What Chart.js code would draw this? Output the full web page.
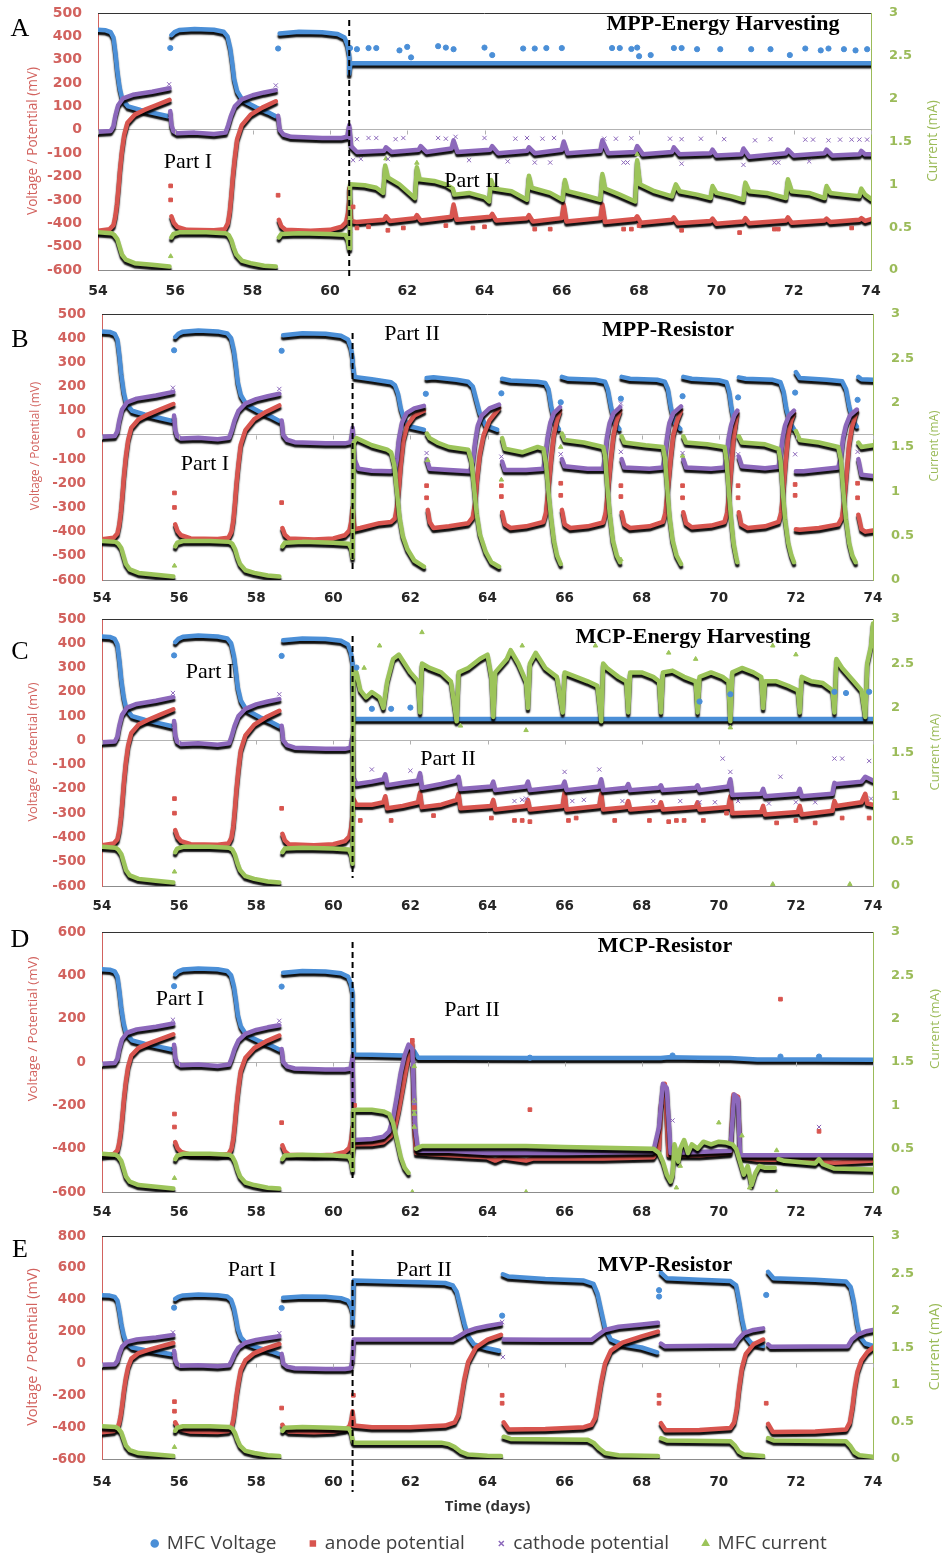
<!DOCTYPE html>
<html>
<head>
<meta charset="utf-8">
<script src="https://cdn.jsdelivr.net/npm/chart.js@4.4.1/dist/chart.umd.min.js"></script>
<style>
  body { margin: 0; background: #fff; width: 943px; height: 1554px; position: relative; overflow: hidden; }
  canvas { position: absolute; left: 0; }
</style>
</head>
<body>
<canvas id="chartA" width="943" height="305" style="top:0px"></canvas>
<canvas id="chartB" width="943" height="305" style="top:305px"></canvas>
<canvas id="chartC" width="943" height="305" style="top:610px"></canvas>
<canvas id="chartD" width="943" height="305" style="top:915px"></canvas>
<canvas id="chartE" width="943" height="343" style="top:1220px"></canvas>
<script>
// ---- data: [day, mV] or [day, mA]; each inner list is one unbroken run of samples ----
const splitDay = 60.5;
const seriesNames = ["MFC Voltage", "anode potential", "cathode potential", "MFC current"];

// Part I is the same run in every panel
const partIVoltage = [
  [[54.0,428],[54.2,426],[54.33,418],[54.4,395],[54.45,330],[54.5,250],[54.56,180],[54.63,130],[54.78,100],[55.1,85],[55.5,70],[55.82,58]],
  [[55.9,405],[55.98,418],[56.1,427],[56.5,432],[57.0,428],[57.25,420],[57.35,400],[57.42,350],[57.47,290],[57.52,220],[57.6,165],[57.75,125],[58.1,95],[58.4,75],[58.6,58]],
  [[58.7,412],[59.2,420],[59.8,418],[60.2,410],[60.38,395],[60.45,365],[60.5,320]]
];
const partIVoltageDots = [[55.87,350],[58.66,348]];
const partIAnode = [
  [[54.0,-432],[54.3,-425],[54.4,-408],[54.45,-370],[54.49,-320],[54.53,-250],[54.57,-170],[54.62,-90],[54.68,-20],[54.76,30],[54.95,65],[55.2,85],[55.5,105],[55.85,128]],
  [[55.9,-370],[55.96,-398],[56.05,-415],[56.3,-428],[57.0,-430],[57.28,-425],[57.36,-400],[57.41,-350],[57.45,-280],[57.49,-200],[57.54,-120],[57.6,-40],[57.72,20],[57.95,65],[58.25,95],[58.6,122]],
  [[58.68,-385],[58.74,-412],[58.85,-428],[59.5,-432],[60.0,-428],[60.3,-415],[60.42,-395],[60.47,-355],[60.5,-300]]
];
const partIAnodeDots = [[55.88,-240],[55.88,-300],[58.66,-280]];
const partICathode = [
  [[54.0,-8],[54.33,-5],[54.4,15],[54.45,60],[54.52,105],[54.65,135],[54.9,150],[55.4,163],[55.85,178]],
  [[55.87,80],[55.9,20],[55.95,-5],[56.05,-15],[56.5,-12],[57.0,-18],[57.3,-12],[57.37,20],[57.44,60],[57.54,100],[57.72,130],[58.0,148],[58.3,160],[58.6,170]],
  [[58.66,60],[58.7,0],[58.8,-20],[59.0,-30],[59.8,-35],[60.3,-35],[60.45,-30],[60.5,20]]
];
const partICathodeDots = [[55.84,195],[58.6,190],[55.87,60]];
const partICurrent = [
  [[54.0,0.44],[54.35,0.43],[54.42,0.41],[54.5,0.36],[54.56,0.27],[54.62,0.18],[54.72,0.12],[54.95,0.08],[55.4,0.06],[55.85,0.04]],
  [[55.9,0.38],[55.95,0.42],[56.1,0.44],[56.8,0.44],[57.3,0.43],[57.38,0.41],[57.45,0.35],[57.51,0.26],[57.58,0.18],[57.72,0.11],[57.95,0.08],[58.3,0.05],[58.6,0.04]],
  [[58.68,0.38],[58.74,0.42],[59.2,0.43],[60.0,0.42],[60.4,0.41],[60.46,0.36],[60.5,0.25]]
];
const partICurrentDots = [[55.88,0.16]];

// A: MPP-Energy Harvesting
const aVoltage = [[[60.5,240],[60.53,285],[74,285]]];
const aVoltageDots = [[60.52,350],[60.7,345],[61.0,350],[61.2,350],[61.8,340],[62.0,355],[62.1,310],[62.8,358],[63.0,352],[63.2,345],[64.0,352],[64.2,320],[65.0,348],[65.3,348],[65.6,350],[66.0,350],[67.3,350],[67.5,350],[67.8,346],[67.95,352],[68.0,315],[68.3,320],[68.9,350],[69.1,350],[69.5,345],[70.1,345],[70.9,345],[71.4,345],[71.9,320],[72.3,348],[72.7,340],[72.9,348],[73.3,345],[73.6,340],[73.9,345]];
const aAnode = [[[60.5,-250],[60.55,-390],[60.7,-395],[61.4,-385],[61.45,-370],[61.55,-390],[62.2,-378],[62.25,-365],[62.35,-388],[63.15,-372],[63.2,-320],[63.28,-385],[64.15,-372],[64.2,-360],[64.3,-388],[65.1,-378],[65.15,-365],[65.25,-392],[66.0,-378],[66.05,-320],[66.12,-392],[67.0,-378],[67.05,-320],[67.12,-395],[67.9,-382],[67.95,-370],[68.05,-398],[68.85,-385],[68.9,-375],[69.0,-400],[69.85,-390],[69.9,-380],[70.0,-402],[70.7,-392],[70.75,-378],[70.85,-400],[71.8,-388],[71.85,-375],[71.95,-398],[72.8,-388],[72.85,-380],[72.95,-395],[73.7,-385],[73.75,-378],[73.85,-390],[74.0,-382]]];
const aAnodeDots = [[60.6,-330],[60.7,-420],[61.0,-415],[61.5,-430],[61.9,-420],[63.0,-410],[63.7,-420],[64.0,-415],[65.3,-425],[65.7,-425],[67.6,-425],[67.8,-425],[68.0,-410],[69.1,-430],[70.6,-440],[71.5,-425],[71.6,-425],[73.5,-420]];
const aCathode = [[[60.55,-70],[60.7,-95],[61.4,-90],[61.45,-75],[61.6,-95],[62.3,-85],[62.35,-70],[62.5,-95],[63.15,-80],[63.2,-45],[63.3,-95],[64.15,-85],[64.2,-70],[64.35,-100],[65.1,-90],[65.15,-75],[65.3,-100],[66.0,-85],[66.05,-50],[66.15,-100],[67.0,-90],[67.05,-45],[67.2,-100],[67.9,-95],[67.95,-70],[68.1,-105],[68.85,-95],[68.9,-75],[69.05,-105],[69.85,-100],[69.9,-85],[70.0,-110],[70.65,-105],[70.7,-80],[70.85,-115],[71.8,-100],[71.85,-85],[72.0,-110],[72.8,-100],[72.85,-85],[73.0,-110],[73.7,-105],[73.75,-90],[73.85,-105],[74.0,-105]]];
const aCathodeDots = [[60.7,-40],[61.0,-35],[61.2,-35],[61.7,-40],[61.9,-35],[62.8,-35],[63.0,-38],[63.25,-30],[64.0,-35],[64.8,-38],[65.1,-35],[65.5,-38],[65.8,-35],[67.1,-38],[67.4,-38],[67.8,-36],[68.8,-38],[69.1,-40],[69.6,-38],[70.2,-40],[71.0,-45],[71.4,-40],[72.3,-42],[72.5,-42],[72.9,-45],[73.2,-42],[73.5,-42],[73.7,-42],[73.9,-42],[60.6,-130],[60.8,-125],[61.5,-125],[63.6,-130],[64.6,-135],[65.3,-140],[65.7,-140],[67.6,-140],[67.7,-140],[69.1,-145],[70.7,-150],[71.5,-140],[71.6,-140],[72.4,-135]];
const aCurrent = [[[60.52,1.0],[60.9,0.99],[61.2,0.96],[61.38,0.9],[61.43,1.22],[61.5,1.08],[61.8,1.0],[62.1,0.88],[62.2,0.84],[62.25,1.2],[62.32,1.06],[62.7,1.04],[63.0,1.0],[63.18,0.95],[63.22,0.88],[63.6,0.9],[64.0,0.85],[64.12,0.8],[64.17,1.05],[64.25,0.95],[64.7,0.92],[65.1,0.82],[65.15,1.1],[65.22,0.96],[65.7,0.9],[66.02,0.82],[66.08,1.05],[66.15,0.92],[66.6,0.87],[67.0,0.82],[67.05,1.12],[67.12,0.95],[67.5,0.88],[67.9,0.8],[67.95,1.28],[68.02,1.0],[68.4,0.92],[68.85,0.86],[68.95,1.0],[69.05,0.92],[69.5,0.88],[69.85,0.84],[69.9,0.98],[70.0,0.9],[70.4,0.86],[70.7,0.82],[70.75,1.02],[70.85,0.92],[71.3,0.9],[71.8,0.84],[71.85,1.06],[71.95,0.92],[72.4,0.9],[72.8,0.84],[72.85,0.98],[72.95,0.9],[73.3,0.88],[73.7,0.86],[73.75,0.95],[73.85,0.88],[74.0,0.83]]];
const aCurrentDots = [[60.52,0.6],[60.52,0.45],[61.45,1.3],[62.25,1.25],[67.95,1.35]];

// B: MPP-Resistor
const bVoltage = [
  [[60.5,300],[60.55,240],[61.0,230],[61.5,218],[61.6,205],[61.68,170],[61.75,110],[61.85,60],[62.0,35],[62.35,22]],
  [[62.42,235],[62.6,238],[63.2,228],[63.5,220],[63.62,200],[63.7,150],[63.8,90],[63.95,40],[64.25,22]],
  [[64.38,232],[64.6,225],[65.3,220],[65.5,215],[65.58,190],[65.65,120],[65.75,50],[65.85,25]],
  [[65.93,240],[66.1,232],[66.8,228],[67.05,220],[67.12,190],[67.2,120],[67.3,50],[67.42,25]],
  [[67.48,240],[67.7,232],[68.4,228],[68.6,220],[68.68,190],[68.75,120],[68.85,50],[69.0,25]],
  [[69.08,240],[69.3,232],[70.0,226],[70.2,218],[70.27,180],[70.33,110],[70.42,40]],
  [[70.52,238],[70.7,232],[71.4,228],[71.6,218],[71.68,180],[71.75,110],[71.85,50],[71.95,25]],
  [[72.0,260],[72.1,235],[72.8,228],[73.2,222],[73.3,190],[73.38,120],[73.48,60],[73.58,35]],
  [[73.62,240],[73.7,230],[74.0,228]]
];
const bVoltageDots = [[62.4,170],[64.36,172],[65.9,135],[67.46,150],[69.06,160],[70.5,155],[71.98,175],[73.6,145]];
const bAnode = [
  [[60.5,-300],[60.55,-390],[60.7,-385],[61.2,-365],[61.5,-360],[61.6,-345],[61.65,-300],[61.7,-220],[61.75,-120],[61.82,-20],[61.92,40],[62.1,80],[62.35,100]],
  [[62.45,-310],[62.5,-360],[62.6,-385],[63.0,-378],[63.5,-365],[63.62,-340],[63.68,-280],[63.73,-180],[63.8,-80],[63.9,0],[64.05,60],[64.3,110]],
  [[64.38,-320],[64.45,-370],[64.6,-385],[65.0,-378],[65.45,-360],[65.52,-320],[65.58,-220],[65.65,-100],[65.72,0],[65.8,60],[65.88,100]],
  [[65.93,-310],[66.0,-370],[66.15,-385],[66.6,-378],[67.0,-362],[67.07,-320],[67.13,-220],[67.2,-100],[67.27,0],[67.35,60],[67.44,100]],
  [[67.48,-320],[67.55,-370],[67.7,-385],[68.2,-378],[68.55,-360],[68.62,-320],[68.68,-220],[68.75,-100],[68.82,0],[68.92,60],[69.02,100]],
  [[69.08,-320],[69.15,-365],[69.3,-382],[69.8,-375],[70.15,-360],[70.22,-320],[70.28,-220],[70.33,-120],[70.38,-20],[70.44,50],[70.48,90]],
  [[70.52,-320],[70.58,-370],[70.75,-385],[71.2,-378],[71.55,-360],[71.62,-320],[71.68,-220],[71.74,-100],[71.8,0],[71.88,60],[71.95,90]],
  [[72.0,-390],[72.1,-392],[72.6,-385],[73.1,-370],[73.2,-340],[73.26,-260],[73.32,-150],[73.38,-40],[73.45,30],[73.58,100]],
  [[73.62,-330],[73.7,-390],[73.8,-400],[74.0,-395]]
];
const bAnodeDots = [[62.42,-210],[62.42,-260],[64.36,-210],[64.36,-255],[65.9,-200],[65.9,-250],[67.46,-210],[67.46,-255],[69.06,-210],[69.06,-260],[70.5,-210],[70.5,-260],[71.98,-205],[71.98,-250],[73.6,-200],[73.6,-260]];
const bCathode = [
  [[60.5,30],[60.55,-100],[60.65,-140],[61.0,-148],[61.5,-150],[61.6,-145],[61.65,-100],[61.7,-20],[61.78,50],[61.9,90],[62.1,110],[62.35,120]],
  [[62.42,-100],[62.5,-140],[63.0,-145],[63.55,-150],[63.62,-110],[63.68,-30],[63.75,40],[63.85,80],[64.05,110],[64.3,125]],
  [[64.38,-110],[64.45,-145],[65.0,-145],[65.45,-140],[65.5,-90],[65.56,-10],[65.63,50],[65.72,90],[65.88,115]],
  [[65.93,-100],[66.0,-130],[66.6,-140],[67.0,-140],[67.05,-90],[67.1,-10],[67.17,50],[67.27,90],[67.44,115]],
  [[67.48,-100],[67.55,-135],[68.2,-140],[68.55,-135],[68.6,-90],[68.66,-10],[68.72,50],[68.82,90],[69.02,118]],
  [[69.08,-100],[69.15,-135],[69.8,-140],[70.15,-135],[70.2,-90],[70.26,-10],[70.32,40],[70.4,80],[70.48,100]],
  [[70.52,-90],[70.6,-130],[71.2,-138],[71.55,-132],[71.6,-90],[71.66,-10],[71.72,40],[71.82,80],[71.95,100]],
  [[72.0,-150],[72.2,-150],[72.8,-140],[73.1,-135],[73.17,-90],[73.23,-10],[73.3,40],[73.4,80],[73.58,105]],
  [[73.62,-100],[73.7,-165],[74.0,-170]]
];
const bCathodeDots = [[62.42,-75],[64.36,-90],[65.9,-80],[67.46,130],[67.46,-70],[69.06,-75],[70.5,-80],[71.98,-80],[73.6,-70]];
const bCurrent = [
  [[60.53,1.55],[60.6,1.6],[61.0,1.52],[61.4,1.47],[61.5,1.44],[61.58,1.3],[61.65,1.0],[61.72,0.7],[61.8,0.5],[61.92,0.35],[62.1,0.22],[62.35,0.15]],
  [[62.43,1.65],[62.5,1.6],[62.7,1.55],[63.0,1.5],[63.5,1.47],[63.58,1.35],[63.65,1.05],[63.72,0.75],[63.8,0.52],[63.95,0.32],[64.1,0.2],[64.3,0.15]],
  [[64.38,1.6],[64.45,1.48],[64.9,1.44],[65.3,1.5],[65.45,1.48],[65.52,1.3],[65.58,1.0],[65.65,0.7],[65.72,0.45],[65.8,0.28],[65.9,0.18]],
  [[65.93,1.65],[66.0,1.58],[66.5,1.55],[67.0,1.5],[67.05,1.4],[67.1,1.1],[67.17,0.75],[67.25,0.45],[67.35,0.28],[67.44,0.2]],
  [[67.48,1.62],[67.55,1.55],[68.1,1.52],[68.55,1.5],[68.6,1.38],[68.66,1.05],[68.72,0.72],[68.8,0.45],[68.9,0.28],[69.02,0.18]],
  [[69.08,1.62],[69.15,1.55],[69.7,1.53],[70.15,1.5],[70.2,1.35],[70.26,1.0],[70.32,0.68],[70.38,0.42],[70.44,0.28],[70.48,0.2]],
  [[70.52,1.62],[70.6,1.55],[71.2,1.53],[71.55,1.48],[71.6,1.35],[71.66,1.0],[71.72,0.68],[71.8,0.42],[71.88,0.28],[71.95,0.2]],
  [[72.0,1.68],[72.1,1.58],[72.6,1.55],[73.1,1.5],[73.17,1.35],[73.23,1.0],[73.3,0.68],[73.38,0.42],[73.46,0.28],[73.55,0.2]],
  [[73.62,1.55],[73.7,1.5],[74.0,1.52]]
];
const bCurrentDots = [[62.45,1.35],[64.36,1.13],[67.46,0.23],[65.9,1.5],[69.06,1.4]];

// C: MCP-Energy Harvesting
const cVoltage = [[[60.5,250],[60.53,88],[74,88]]];
const cVoltageDots = [[60.6,300],[61.0,130],[61.5,130],[62.0,135],[69.5,160],[70.3,190],[73.0,200],[73.3,195],[73.9,200]];
const cAnode = [[[60.5,-280],[60.52,-240],[60.6,-265],[61.0,-265],[61.3,-255],[61.35,-230],[61.4,-280],[61.8,-270],[62.2,-255],[62.25,-215],[62.3,-275],[62.8,-265],[63.2,-245],[63.25,-220],[63.3,-280],[64.1,-270],[64.15,-245],[64.2,-285],[65.0,-270],[65.05,-245],[65.1,-285],[65.95,-270],[66.0,-215],[66.05,-285],[66.9,-270],[66.95,-220],[67.0,-285],[67.6,-275],[67.65,-250],[67.7,-285],[68.45,-275],[68.5,-255],[68.55,-285],[69.4,-275],[69.45,-255],[69.5,-285],[70.25,-275],[70.3,-230],[70.35,-300],[71.1,-295],[71.15,-270],[71.2,-305],[72.05,-295],[72.1,-270],[72.15,-305],[72.95,-290],[73.0,-250],[73.05,-270],[73.7,-255],[73.8,-220],[73.85,-260],[74.0,-265]]];
const cAnodeDots = [[60.7,-330],[61.5,-330],[62.6,-310],[64.1,-320],[64.7,-330],[64.9,-330],[65.1,-335],[66.1,-330],[66.3,-320],[67.3,-330],[68.2,-330],[68.7,-335],[68.9,-330],[69.1,-330],[69.6,-330],[70.2,-300],[71.5,-340],[72.0,-330],[72.5,-340],[73.2,-320],[73.9,-320]];
const cCathode = [[[60.5,20],[60.52,-150],[60.6,-180],[61.0,-170],[61.3,-160],[61.35,-140],[61.4,-185],[61.8,-175],[62.2,-165],[62.25,-135],[62.3,-195],[62.8,-180],[63.2,-165],[63.25,-150],[63.3,-200],[64.1,-190],[64.15,-170],[64.2,-205],[65.0,-190],[65.05,-170],[65.1,-205],[65.95,-190],[66.0,-170],[66.05,-205],[66.9,-190],[66.95,-160],[67.0,-205],[67.6,-195],[67.65,-180],[67.7,-205],[68.45,-195],[68.5,-185],[68.55,-205],[69.4,-195],[69.45,-185],[69.5,-205],[70.25,-190],[70.3,-160],[70.35,-225],[71.1,-220],[71.15,-200],[71.2,-230],[72.05,-220],[72.1,-200],[72.15,-230],[72.95,-220],[73.0,-175],[73.05,-180],[73.7,-170],[73.8,-150],[74.0,-165]]];
const cCathodeDots = [[61.0,-120],[62.0,-125],[66.0,-130],[66.9,-120],[70.1,-75],[70.3,-130],[71.6,-150],[73.0,-75],[73.2,-75],[73.9,-85],[73.95,-240],[64.7,-250],[64.9,-245],[65.0,-240],[66.2,-250],[66.5,-245],[67.5,-250],[68.3,-250],[69.0,-250],[69.5,-255],[69.9,-255],[70.5,-250],[71.3,-260],[72.0,-255],[72.5,-255]];
const cCurrent = [[[60.52,2.45],[60.6,2.4],[60.7,2.2],[60.85,2.12],[61.0,2.18],[61.2,2.12],[61.3,2.0],[61.4,2.3],[61.55,2.55],[61.7,2.6],[62.0,2.4],[62.2,2.3],[62.25,1.95],[62.3,2.5],[62.5,2.45],[62.8,2.4],[63.05,2.3],[63.2,1.85],[63.25,2.4],[63.5,2.45],[63.8,2.55],[64.0,2.6],[64.1,2.35],[64.15,1.9],[64.2,2.4],[64.5,2.55],[64.6,2.65],[64.8,2.5],[65.0,2.3],[65.05,2.0],[65.1,2.5],[65.25,2.62],[65.5,2.45],[65.8,2.35],[65.95,1.95],[66.0,2.4],[66.3,2.35],[66.6,2.3],[66.85,2.25],[66.95,1.85],[67.0,2.5],[67.1,2.45],[67.4,2.35],[67.6,2.3],[67.65,1.95],[67.7,2.4],[68.0,2.4],[68.3,2.35],[68.45,2.3],[68.5,1.95],[68.55,2.4],[68.8,2.42],[69.1,2.35],[69.4,2.3],[69.45,1.95],[69.5,2.35],[69.8,2.4],[70.1,2.35],[70.25,2.3],[70.3,1.85],[70.35,2.4],[70.6,2.45],[70.9,2.4],[71.1,2.35],[71.15,2.0],[71.2,2.3],[71.5,2.3],[71.8,2.25],[72.05,2.2],[72.1,1.95],[72.15,2.35],[72.4,2.3],[72.7,2.28],[72.95,2.2],[73.0,1.95],[73.05,2.55],[73.2,2.45],[73.5,2.3],[73.7,2.2],[73.8,1.9],[73.85,2.5],[73.95,2.7],[74.0,2.95]]];
const cCurrentDots = [[60.8,2.45],[61.2,2.7],[62.3,2.85],[63.3,1.8],[64.9,2.7],[65.0,1.75],[66.8,2.7],[68.7,2.62],[69.4,2.55],[70.3,1.78],[71.4,2.7],[71.4,0.02],[73.4,0.02],[72.0,2.6],[60.52,1.2],[60.52,0.8]];

// D: MCP-Resistor
const dVoltage = [[[60.5,250],[60.53,35],[61.0,33],[61.8,30],[62.0,22],[62.1,50],[62.2,20],[63.0,20],[65.0,18],[68.5,18],[68.7,22],[69.5,20],[70.3,18],[71.0,12],[72.5,12],[74.0,10]]];
const dVoltageDots = [[65.1,20],[68.8,30],[71.6,25],[72.6,25]];
const dAnode = [[[60.5,-420],[60.53,-380],[61.0,-378],[61.3,-370],[61.5,-340],[61.6,-300],[61.7,-220],[61.8,-120],[61.9,-20],[62.0,60],[62.05,90],[62.1,-300],[62.15,-420],[62.5,-425],[63.5,-435],[64.0,-440],[64.2,-455],[64.4,-440],[65.0,-455],[65.2,-445],[66.0,-445],[67.0,-445],[68.3,-440],[68.45,-400],[68.5,-200],[68.6,-100],[68.7,-430],[69.5,-430],[70.3,-420],[70.38,-150],[70.5,-160],[70.55,-440],[71.0,-450],[72.5,-455],[73.0,-465],[74.0,-455]]];
const dAnodeDots = [[62.05,100],[62.1,-210],[65.1,-220],[71.6,290],[72.6,-320],[60.55,-200]];
const dCathode = [[[60.5,30],[60.53,-360],[61.0,-355],[61.3,-345],[61.45,-320],[61.55,-260],[61.65,-160],[61.75,-50],[61.85,30],[61.95,80],[62.05,60],[62.12,-300],[62.2,-410],[63.0,-410],[64.0,-420],[66.0,-420],[68.3,-415],[68.45,-300],[68.55,-100],[68.65,-120],[68.75,-420],[70.3,-410],[70.4,-150],[70.5,-170],[70.55,-430],[71.0,-430],[72.5,-430],[74.0,-430]]];
const dCathodeDots = [[62.1,-180],[62.1,-280],[68.8,-270],[72.6,-300]];
const dCurrent = [
  [[60.52,0.95],[61.0,0.95],[61.3,0.93],[61.45,0.9],[61.55,0.8],[61.65,0.6],[61.75,0.4],[61.85,0.28],[61.95,0.22]],
  [[62.15,0.5],[62.3,0.53],[63.0,0.53],[64.0,0.53],[65.0,0.53],[66.0,0.52],[67.0,0.51],[68.3,0.5],[68.45,0.45],[68.55,0.35],[68.65,0.2],[68.75,0.12],[68.8,0.2],[68.85,0.55],[68.95,0.35],[69.0,0.5],[69.1,0.6],[69.2,0.45],[69.3,0.55],[69.45,0.5],[69.6,0.58],[69.8,0.55],[70.0,0.58],[70.2,0.57],[70.35,0.55],[70.45,0.5],[70.55,0.35],[70.65,0.2],[70.75,0.3],[70.85,0.08],[70.95,0.22],[71.05,0.3],[71.2,0.28],[71.45,0.28]],
  [[71.55,0.38],[71.7,0.36],[72.5,0.33],[72.6,0.38],[72.7,0.32],[73.0,0.27],[74.0,0.26]]
];
const dCurrentDots = [[62.1,1.45],[62.1,1.05],[62.1,0.95],[62.1,0.9],[62.1,0.75],[62.05,0.0],[65.0,0.0],[70.0,0.8],[68.9,0.05],[71.5,0.0],[71.5,0.48],[70.6,0.65],[69.0,0.3],[70.8,0.05]];

// E: MVP-Resistor
const eVoltage = [
  [[60.5,250],[60.53,520],[61.5,515],[62.5,508],[62.9,505],[63.1,490],[63.2,450],[63.3,350],[63.4,250],[63.5,170],[63.65,120],[64.0,95],[64.3,80]],
  [[64.4,560],[64.55,545],[65.5,530],[66.5,520],[66.75,500],[66.85,440],[66.95,330],[67.05,220],[67.2,150],[67.5,120],[68.0,100],[68.4,70]],
  [[68.5,570],[68.65,535],[69.5,525],[70.3,518],[70.45,490],[70.52,400],[70.6,280],[70.7,170],[70.85,125],[71.15,110]],
  [[71.28,575],[71.42,535],[72.5,525],[73.3,515],[73.42,480],[73.5,390],[73.58,260],[73.66,170],[73.8,125],[74.0,110]]
];
const eVoltageDots = [[64.38,300],[68.45,460],[68.45,420],[71.23,430]];
const eAnode = [
  [[60.5,-300],[60.53,-390],[61.0,-400],[62.0,-400],[62.9,-390],[63.15,-370],[63.25,-320],[63.32,-220],[63.4,-100],[63.5,10],[63.7,100],[64.0,150],[64.35,180]],
  [[64.42,-370],[64.55,-415],[65.5,-412],[66.5,-400],[66.7,-385],[66.8,-340],[66.87,-240],[66.95,-120],[67.05,0],[67.2,80],[67.5,130],[68.0,170],[68.42,200]],
  [[68.5,-375],[68.62,-420],[69.5,-418],[70.3,-405],[70.4,-370],[70.47,-280],[70.53,-150],[70.6,-30],[70.7,60],[70.9,120],[71.15,150]],
  [[71.28,-380],[71.4,-430],[72.5,-428],[73.3,-415],[73.4,-370],[73.47,-270],[73.53,-150],[73.6,-50],[73.7,20],[73.85,70],[74.0,100]]
];
const eAnodeDots = [[64.38,-200],[64.38,-250],[68.45,-200],[68.45,-250],[71.23,-250],[60.52,-200]];
const eCathode = [
  [[60.5,20],[60.53,150],[62.5,150],[63.1,150],[63.25,170],[63.45,200],[63.7,220],[64.0,235],[64.35,250]],
  [[64.42,150],[65.5,148],[66.7,148],[66.85,175],[67.05,210],[67.4,230],[68.0,245],[68.42,255]],
  [[68.5,125],[68.6,108],[70.4,112],[70.5,150],[70.65,190],[70.9,210],[71.15,220]],
  [[71.28,120],[71.35,105],[73.35,108],[73.45,150],[73.6,180],[73.8,200],[74.0,210]]
];
const eCathodeDots = [[64.4,40],[64.38,260]];
const eCurrent = [
  [[60.53,0.22],[62.8,0.22],[63.0,0.2],[63.15,0.16],[63.3,0.1],[63.5,0.06],[64.0,0.045],[64.35,0.04]],
  [[64.42,0.3],[64.6,0.27],[66.6,0.26],[66.75,0.22],[66.9,0.14],[67.05,0.08],[67.4,0.05],[68.42,0.04]],
  [[68.5,0.28],[68.65,0.25],[70.3,0.24],[70.42,0.18],[70.52,0.1],[70.65,0.06],[71.15,0.04]],
  [[71.28,0.28],[71.42,0.25],[73.3,0.24],[73.42,0.17],[73.52,0.09],[73.65,0.05],[74.0,0.03]]
];
const eCurrentDots = [];

// ---- look ----
const colors = ["#4b8fd7", "#d8554f", "#8c68bb", "#9cc45a"];
const pointStyles = ["circle", "rect", "crossRot", "triangle"];
const leftColor = "#d2625e";
const rightColor = "#9bbb59";

// page-pixel layout of each panel
const panels = [
  { id: "chartA", top: 0, height: 305, area: [98, 13, 871, 270], yMin: -600, yMax: 500, yStep: 100, xPad: 13,
    letter: ["A", 20, 29], title: ["MPP-Energy Harvesting", 723, 24], parts: [["Part I", 188, 162], ["Part II", 472, 181]],
    dash: [20, 276], yTitle: [33, 141, 13.6], cTitle: [933, 141, 13.6],
    series: [[aVoltage, aVoltageDots], [aAnode, aAnodeDots], [aCathode, aCathodeDots], [aCurrent, aCurrentDots]] },
  { id: "chartB", top: 305, height: 305, area: [102, 314, 873, 580], yMin: -600, yMax: 500, yStep: 100, xPad: 10,
    letter: ["B", 20, 340], title: ["MPP-Resistor", 668, 330], parts: [["Part I", 205, 464], ["Part II", 412, 334]],
    dash: [333, 573], yTitle: [36, 446, 11.8], cTitle: [935, 446, 11.8],
    series: [[bVoltage, bVoltageDots], [bAnode, bAnodeDots], [bCathode, bCathodeDots], [bCurrent, bCurrentDots]] },
  { id: "chartC", top: 610, height: 305, area: [102, 619, 873, 886], yMin: -600, yMax: 500, yStep: 100, xPad: 12,
    letter: ["C", 20, 652], title: ["MCP-Energy Harvesting", 693, 637], parts: [["Part I", 210, 672], ["Part II", 448, 759]],
    dash: [636, 878], yTitle: [33, 752, 12.8], cTitle: [935, 752, 12.8],
    series: [[cVoltage, cVoltageDots], [cAnode, cAnodeDots], [cCathode, cCathodeDots], [cCurrent, cCurrentDots]] },
  { id: "chartD", top: 915, height: 305, area: [102, 932, 873, 1192], yMin: -600, yMax: 600, yStep: 200, xPad: 12,
    letter: ["D", 20, 940], title: ["MCP-Resistor", 665, 946], parts: [["Part I", 180, 999], ["Part II", 472, 1010]],
    dash: [942, 1181], yTitle: [33, 1029, 13.3], cTitle: [935, 1029, 13.3],
    series: [[dVoltage, dVoltageDots], [dAnode, dAnodeDots], [dCathode, dCathodeDots], [dCurrent, dCurrentDots]] },
  { id: "chartE", top: 1220, height: 343, area: [102, 1236, 873, 1459], yMin: -600, yMax: 800, yStep: 200, xPad: 15,
    letter: ["E", 20, 1250], title: ["MVP-Resistor", 665, 1265], parts: [["Part I", 252, 1270], ["Part II", 424, 1270]],
    dash: [1250, 1492], yTitle: [33, 1347, 14.5], cTitle: [935, 1347, 14.5], legend: true,
    series: [[eVoltage, eVoltageDots], [eAnode, eAnodeDots], [eCathode, eCathodeDots], [eCurrent, eCurrentDots]] }
];

const partI = [
  [partIVoltage, partIVoltageDots], [partIAnode, partIAnodeDots],
  [partICathode, partICathodeDots], [partICurrent, partICurrentDots]
];

function toPoints(segs) {
  const pts = [];
  segs.forEach((seg, i) => {
    if (i > 0) pts.push({ x: seg[0][0], y: null });
    seg.forEach(p => pts.push({ x: p[0], y: p[1] }));
  });
  return pts;
}

// glue the last run of part I to the first run of part II
function joinParts(first, second) {
  const last = first[first.length - 1].concat(second[0]);
  return first.slice(0, -1).concat([last], second.slice(1));
}

// dark drop shadow under the sample trails
const shadowPlugin = {
  id: "trailShadow",
  beforeDatasetDraw(chart, args) {
    if (!chart.data.datasets[args.index].shadow) return;
    const ctx = chart.ctx;
    ctx.save();
    ctx.shadowColor = "rgba(0,0,0,0.95)";
    ctx.shadowOffsetX = 0;
    ctx.shadowOffsetY = 3;
    ctx.shadowBlur = 1.5;
  },
  afterDatasetDraw(chart, args) {
    if (chart.data.datasets[args.index].shadow) chart.ctx.restore();
  }
};
Chart.register(shadowPlugin);

function decor(p) {
  return {
    id: "decor",
    afterDraw(chart) {
      const { ctx, chartArea: a, scales } = chart;
      const dy = -p.top;
      ctx.save();
      ctx.strokeStyle = "#333";
      ctx.lineWidth = 1;
      ctx.beginPath();
      ctx.moveTo(a.left, a.top + 0.5);
      ctx.lineTo(a.right, a.top + 0.5);
      ctx.stroke();

      // little tick marks hanging from the zero line
      const y0 = Math.round(scales.y.getPixelForValue(0)) + 0.5;
      ctx.strokeStyle = "#b0b0b0";
      scales.x.ticks.forEach(t => {
        const x = Math.round(scales.x.getPixelForValue(t.value)) + 0.5;
        ctx.beginPath();
        ctx.moveTo(x, y0);
        ctx.lineTo(x, y0 + 4);
        ctx.stroke();
      });

      const xs = scales.x.getPixelForValue(splitDay);
      ctx.strokeStyle = "#000";
      ctx.lineWidth = 2;
      ctx.setLineDash([6, 4]);
      ctx.beginPath();
      ctx.moveTo(xs, p.dash[0] + dy);
      ctx.lineTo(xs, p.dash[1] + dy);
      ctx.stroke();
      ctx.setLineDash([]);

      ctx.textAlign = "center";
      ctx.textBaseline = "middle";
      ctx.fillStyle = "#000";
      ctx.font = "26px 'Liberation Serif'";
      ctx.fillText(p.letter[0], p.letter[1], p.letter[2] + dy);
      ctx.font = "bold 22px 'Liberation Serif'";
      ctx.fillText(p.title[0], p.title[1], p.title[2] + dy);
      ctx.font = "22px 'Liberation Serif'";
      p.parts.forEach(t => ctx.fillText(t[0], t[1], t[2] + dy));

      ctx.save();
      ctx.translate(p.yTitle[0], p.yTitle[1] + dy);
      ctx.rotate(-Math.PI / 2);
      ctx.font = p.yTitle[2] + "px 'Open Sans'";
      ctx.fillStyle = leftColor;
      ctx.fillText("Voltage / Potential (mV)", 0, 0);
      ctx.restore();

      ctx.save();
      ctx.translate(p.cTitle[0], p.cTitle[1] + dy);
      ctx.rotate(-Math.PI / 2);
      ctx.font = p.cTitle[2] + "px 'Open Sans'";
      ctx.fillStyle = rightColor;
      ctx.fillText("Current (mA)", 0, 0);
      ctx.restore();

      ctx.restore();
    }
  };
}

function buildDatasets(p) {
  const lines = [];
  const dots = [];
  p.series.forEach((s, i) => {
    const axis = i === 3 ? "y1" : "y";
    lines.push({
      label: seriesNames[i],
      data: toPoints(joinParts(partI[i][0], s[0])),
      yAxisID: axis,
      showLine: true,
      shadow: true,
      borderColor: colors[i],
      backgroundColor: colors[i],
      borderWidth: 4.5,
      borderCapStyle: "round",
      borderJoinStyle: "round",
      pointRadius: 0,
      pointHoverRadius: 0,
      pointStyle: pointStyles[i],
      pointBackgroundColor: colors[i],
      pointBorderColor: colors[i],
      pointBorderWidth: 1.5,
      spanGaps: false,
      order: 4 - i
    });
    dots.push({
      label: seriesNames[i] + " (scatter)",
      outlier: true,
      data: partI[i][1].concat(s[1]).map(q => ({ x: q[0], y: q[1] })),
      yAxisID: axis,
      showLine: false,
      pointStyle: pointStyles[i],
      pointRadius: i === 2 ? 3 : 2.6,
      pointBackgroundColor: colors[i],
      pointBorderColor: colors[i],
      pointBorderWidth: 1,
      order: 0
    });
  });
  return lines.concat(dots);
}

// keep the tick labels from pushing the plot area around
function noVerticalPadding(s) {
  s.paddingTop = 0;
  s.paddingBottom = 0;
}

function makeChart(p) {
  const canvasTop = p.top;
  const padLeft = p.legend ? 36 : 0;
  const areaTop = p.area[1] - canvasTop;
  const areaBottom = p.area[3] - canvasTop;
  const legendPad = 34;
  const legendH = p.legend ? 19 + legendPad + 10 : 0;
  const xHeight = p.height - legendH - areaBottom;
  const tickFont = { family: "DejaVu Sans", weight: "bold", size: p.id === "chartA" ? 14 : 13.5 };

  new Chart(document.getElementById(p.id), {
    type: "scatter",
    data: { datasets: buildDatasets(p) },
    options: {
      responsive: false,
      animation: false,
      devicePixelRatio: 1,
      layout: { padding: { top: areaTop, left: padLeft, right: 0, bottom: 0 } },
      plugins: {
        tooltip: { enabled: false },
        legend: {
          display: !!p.legend,
          position: "bottom",
          labels: {
            usePointStyle: true,
            boxWidth: 5,
            boxHeight: 5,
            padding: legendPad,
            color: "#404040",
            font: { family: "Open Sans", size: 19 },
            filter: (item, data) => !data.datasets[item.datasetIndex].outlier,
            sort: (a, b) => a.datasetIndex - b.datasetIndex
          }
        }
      },
      scales: {
        x: {
          type: "linear",
          min: 54,
          max: 74,
          grid: { display: false, drawTicks: false },
          border: { color: "#8c8c8c" },
          ticks: { stepSize: 2, padding: p.xPad, color: "#262626", font: tickFont, maxRotation: 0, autoSkip: false },
          title: p.legend
            ? { display: true, text: "Time (days)", color: "#333", font: { family: "Open Sans", weight: "bold", size: 15 }, padding: { top: 0, bottom: -16 } }
            : { display: false },
          afterFit: s => { s.height = xHeight; }
        },
        y: {
          min: p.yMin,
          max: p.yMax,
          grid: {
            color: c => (c.tick && c.tick.value === 0 ? "#b3b3b3" : "rgba(0,0,0,0)"),
            drawTicks: false
          },
          border: { color: leftColor },
          ticks: { stepSize: p.yStep, padding: 16, color: leftColor, font: tickFont },
          afterFit: s => { s.width = p.area[0] - padLeft; noVerticalPadding(s); }
        },
        y1: {
          position: "right",
          min: 0,
          max: 3,
          grid: { display: false, drawTicks: false },
          border: { color: rightColor },
          ticks: {
            stepSize: 0.5, padding: 18, color: rightColor,
            font: { family: "DejaVu Sans", weight: "bold", size: 13 },
            callback: v => String(Math.round(v * 10) / 10)
          },
          afterFit: s => { s.width = 943 - p.area[2]; noVerticalPadding(s); }
        }
      }
    },
    plugins: [decor(p)]
  });
}

panels.forEach(makeChart);
</script>
</body>
</html>
